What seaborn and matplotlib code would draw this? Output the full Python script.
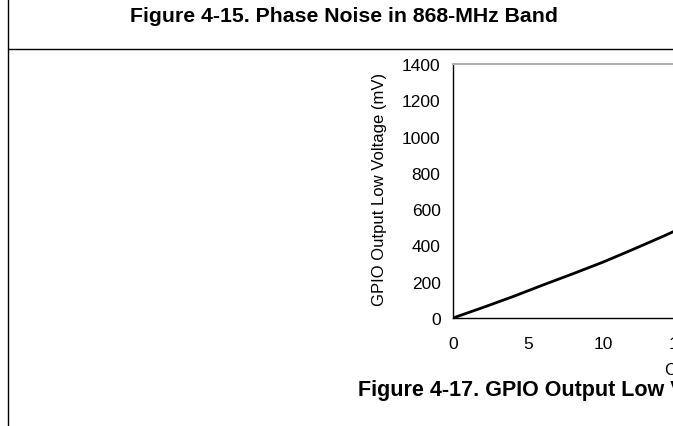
import matplotlib
matplotlib.use("Agg")
import matplotlib.pyplot as plt
import seaborn as sns
import pandas as pd
from matplotlib.lines import Line2D

sns.set_theme(style="white")
plt.rcParams['font.family'] = ['Liberation Sans', 'DejaVu Sans']

# data
current_ma = [0, 2, 4, 6, 8, 10, 12, 14, 16, 18, 20]
voltage_mv = [0, 58, 118, 182, 244, 308, 378, 450, 525, 605, 690]
x_ticks = [0, 5, 10, 15, 20]
y_ticks = [0, 200, 400, 600, 800, 1000, 1200, 1400]

df = pd.DataFrame({"Current (mA)": current_ma, "Voltage (mV)": voltage_mv})

W, H = 673, 427
fig = plt.figure(figsize=(W / 100, H / 100), dpi=100)

ax = fig.add_axes([453 / W, 1 - 319 / H, 300 / W, 254 / H])
sns.lineplot(data=df, x="Current (mA)", y="Voltage (mV)", ax=ax, color="black", linewidth=2)
ax.set_xlim(0, 20)
ax.set_ylim(0, 1400)
ax.set_xticks(x_ticks)
ax.set_yticks(y_ticks)
ax.tick_params(axis="both", direction="out", length=4, width=1, color="black",
               labelsize=12.5, labelcolor="black", pad=5)
ax.tick_params(axis="x", pad=9)
for s in ["left", "bottom"]:
    ax.spines[s].set_color("black")
    ax.spines[s].set_linewidth(1)
ax.spines["right"].set_visible(False)
ax.spines["top"].set_color("#b0b0b0")
ax.spines["top"].set_linewidth(1.5)
ax.set_ylabel("GPIO Output Low Voltage (mV)", fontsize=12, color="black")
ax.yaxis.set_label_coords(-(453 - 379) / 300, (319 - 189) / 254)
ax.yaxis.label.set_va("center")
ax.set_xlabel("Current (mA)", fontsize=12, color="black")
ax.xaxis.label.set_ha("left")
ax.xaxis.set_label_coords((665 - 453) / 300, -(371 - 319) / 254)
ax.xaxis.label.set_va("center")

# page decorations
fig.add_artist(Line2D([8 / W, 8 / W], [1, 0], transform=fig.transFigure,
                      color="black", linewidth=1))
fig.add_artist(Line2D([8 / W, 1], [1 - 50 / H, 1 - 50 / H], transform=fig.transFigure,
                      color="black", linewidth=1))
fig.text(344 / W, 1 - 16 / H, "Figure 4-15. Phase Noise in 868-MHz Band",
         ha="center", va="center", fontsize=15.3, fontweight="bold", color="black")
fig.text(358 / W, 1 - 391 / H, "Figure 4-17. GPIO Output Low Voltage vs. Current Being Sunk",
         ha="left", va="center", fontsize=15.5, fontweight="bold", color="black")

fig.savefig("out.png", dpi=100)
